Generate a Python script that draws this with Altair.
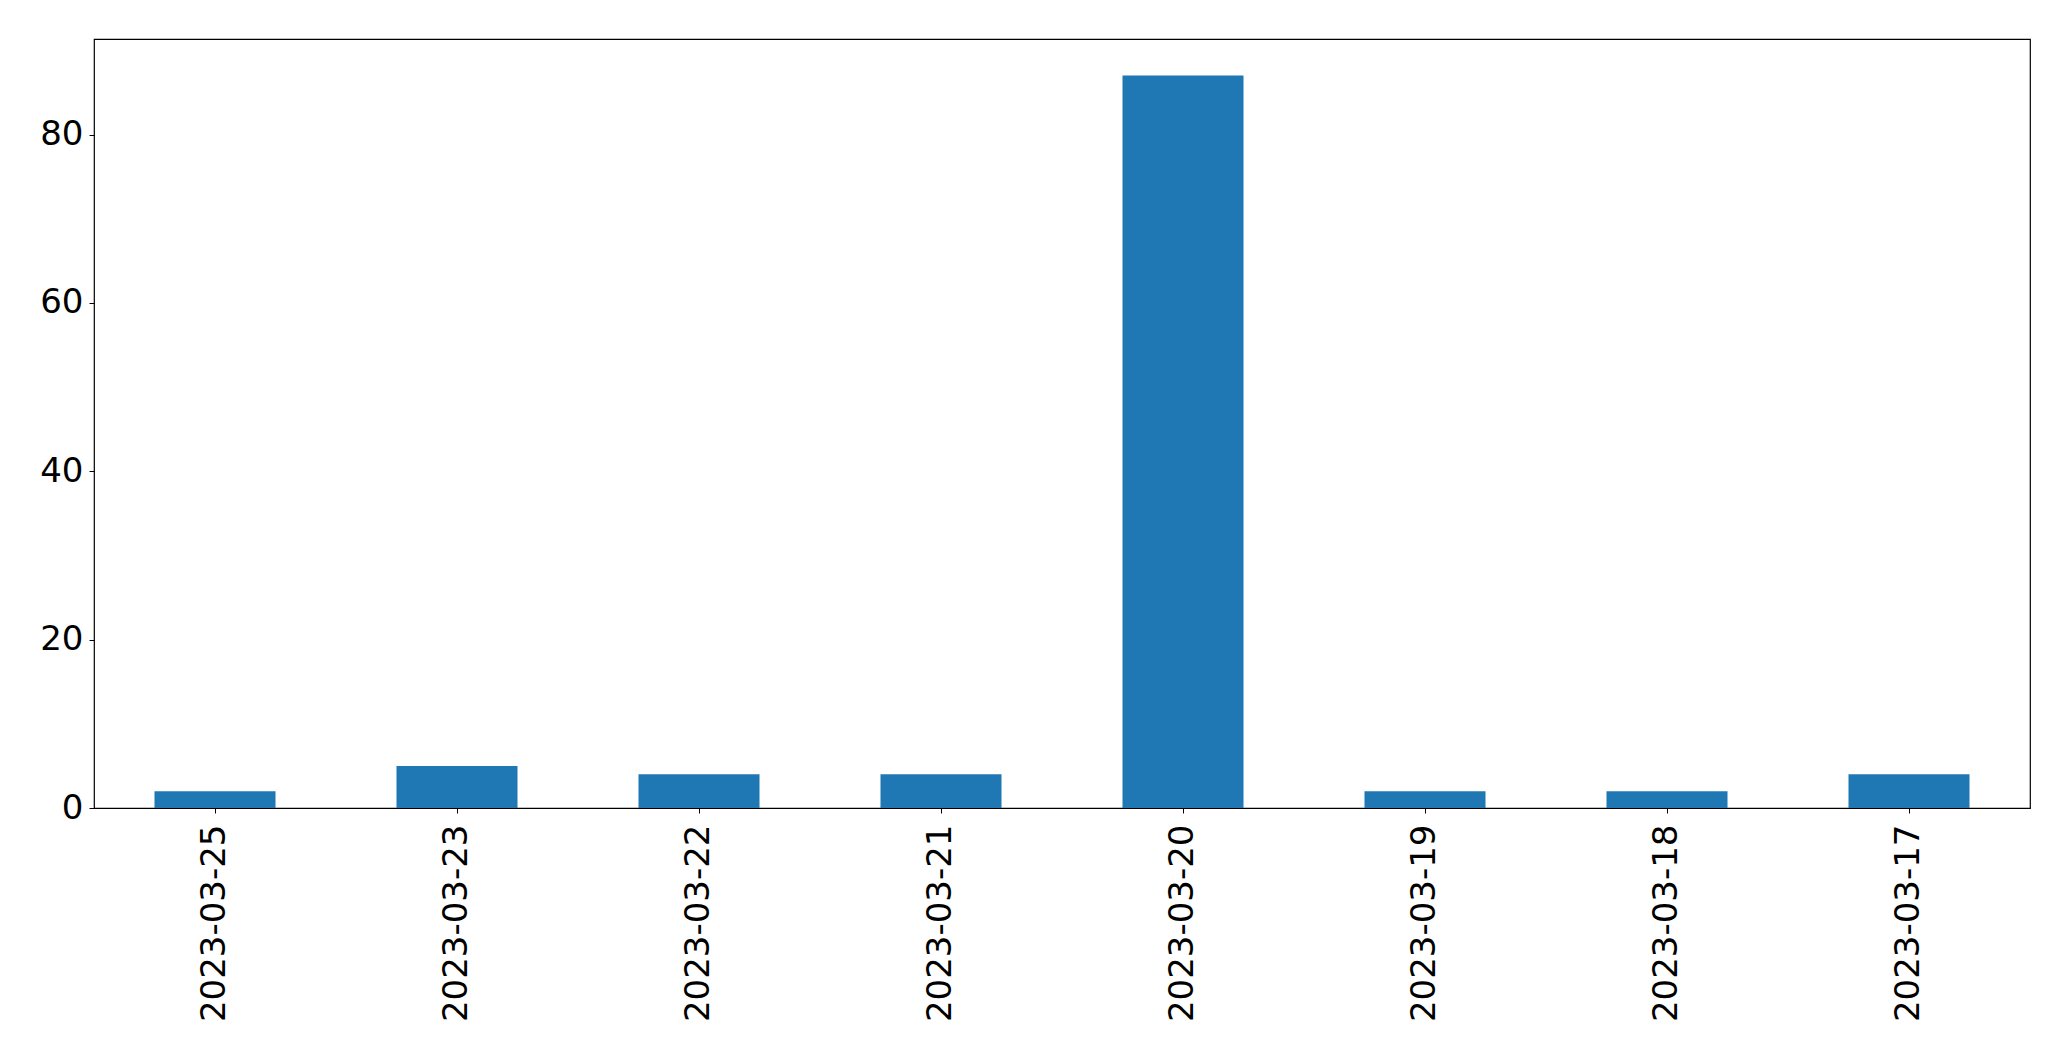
import altair as alt
import pandas as pd

dates = ["2023-03-25", "2023-03-23", "2023-03-22", "2023-03-21",
         "2023-03-20", "2023-03-19", "2023-03-18", "2023-03-17"]
counts = [2, 5, 4, 4, 87, 2, 2, 4]
y_ticks = [0, 20, 40, 60, 80]

df = pd.DataFrame({"date": dates, "count": counts})

chart = alt.Chart(df).mark_bar(color="#1f77b4").encode(
    x=alt.X("date:N", sort=dates, title=None,
            scale=alt.Scale(paddingInner=0.5, paddingOuter=0.25),
            axis=alt.Axis(labelAngle=270, labelAlign="right", labelBaseline="middle",
                          labelFontSize=34, labelFont="DejaVu Sans", labelColor="black",
                          labelLimit=400, labelPadding=11, tickSize=5, tickColor="black",
                          tickWidth=1, domain=False, grid=False)),
    y=alt.Y("count:Q", title=None,
            scale=alt.Scale(domain=[0, 91.35], nice=False, zero=True),
            axis=alt.Axis(values=y_ticks, labelFontSize=34, labelFont="DejaVu Sans",
                          labelColor="black", labelPadding=6, tickSize=5,
                          tickColor="black", tickWidth=1, domain=False, grid=False)),
).properties(
    width=1936, height=769,
    autosize="none",
    background="white",
    padding={"left": 86, "top": 31, "right": 20, "bottom": 230},
).configure_view(
    stroke="black", strokeWidth=1.2, fill="white"
)

chart.save("out.html", embed_options={"renderer": "svg", "actions": False})
